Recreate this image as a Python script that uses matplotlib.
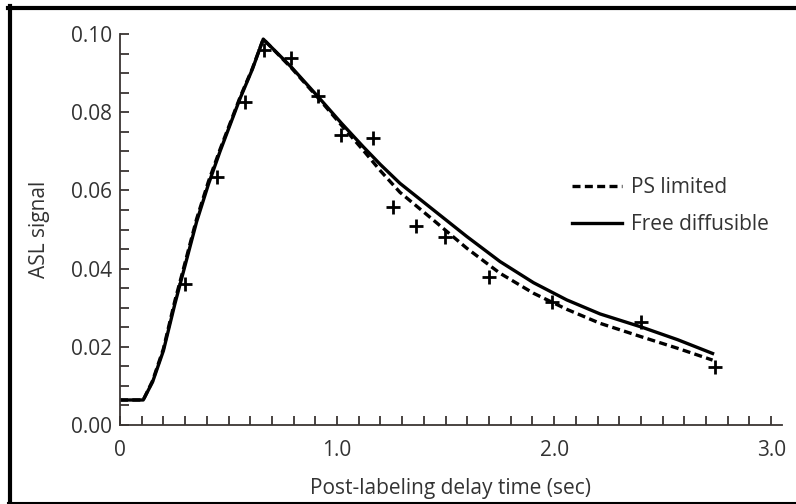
import matplotlib.pyplot as plt
from matplotlib.lines import Line2D
from matplotlib.ticker import MultipleLocator

plt.rcParams['font.family'] = ['Open Sans', 'DejaVu Sans']

# measured ASL signal at each post-labeling delay
t_meas = [0.30, 0.445, 0.576, 0.664, 0.79, 0.914, 1.02, 1.167, 1.26, 1.364, 1.498, 1.70, 1.99, 2.40, 2.74]
s_meas = [0.036, 0.0635, 0.0827, 0.096, 0.0938, 0.0841, 0.0742, 0.0735, 0.0557, 0.0509, 0.048, 0.0379, 0.0315, 0.0264, 0.0149]

# model fits
t_fit = [0.0, 0.107, 0.15, 0.2, 0.253, 0.284, 0.353, 0.407, 0.461, 0.553, 0.61, 0.66,
         0.79, 0.92, 1.02, 1.12, 1.2, 1.29, 1.444, 1.598, 1.751, 1.905, 2.058, 2.212,
         2.4, 2.57, 2.73]
s_free = [0.0064, 0.0064, 0.011, 0.019, 0.031, 0.0375, 0.052, 0.0615, 0.070, 0.0835, 0.091, 0.0987,
          0.0915, 0.0835, 0.0772, 0.0712, 0.0666, 0.0618, 0.055, 0.0482, 0.0418, 0.0364, 0.032, 0.0284,
          0.0251, 0.0218, 0.0183]
s_ps = [0.0064, 0.0064, 0.0113, 0.0195, 0.0318, 0.0382, 0.0527, 0.0622, 0.0705, 0.0838, 0.0912, 0.0987,
        0.0913, 0.0832, 0.0767, 0.0703, 0.065, 0.0595, 0.0524, 0.0452, 0.0388, 0.0337, 0.0296, 0.026,
        0.0226, 0.0196, 0.0166]

ink = '#3a3533'
txt = '#333333'

fig = plt.figure(figsize=(7.96, 5.04), dpi=100)
ax = fig.add_axes([120 / 796, 1 - 425 / 504, 662 / 796, 391 / 504])

ax.plot(t_fit, s_ps, color='black', lw=2.4, linestyle=(0, (2.4, 1.3)), label='PS limited')
ax.plot(t_fit, s_free, color='black', lw=2.4, label='Free diffusible')
ax.plot(t_meas, s_meas, linestyle='none', marker='+', ms=9.5, mew=2.0, color='black')

ax.set_xlim(0, 3.05)
ax.set_ylim(0, 0.10)
ax.set_xticks([0, 1, 2, 3])
ax.set_xticklabels(['0', '1.0', '2.0', '3.0'])
ax.xaxis.set_minor_locator(MultipleLocator(0.1))
ax.set_yticks([0, 0.02, 0.04, 0.06, 0.08, 0.10])
ax.set_yticklabels(['0.00', '0.02', '0.04', '0.06', '0.08', '0.10'])
ax.yaxis.set_minor_locator(MultipleLocator(0.005))

for side in ['top', 'right']:
    ax.spines[side].set_visible(False)
for side in ['left', 'bottom']:
    ax.spines[side].set_color(ink)
    ax.spines[side].set_linewidth(1.3)

ax.tick_params(which='both', direction='in', length=6.5, width=1.3, color=ink,
               labelsize=15, labelcolor=txt)
ax.tick_params(axis='x', pad=11)
ax.tick_params(axis='y', pad=6)

ax.set_xlabel('Post-labeling delay time (sec)', fontsize=15, color=txt, labelpad=12)
ax.set_ylabel('ASL signal', fontsize=15, color=txt, labelpad=15)

ax.legend(loc='upper left', bbox_to_anchor=(562 / 796, 1 - 167 / 504),
          bbox_transform=fig.transFigure, frameon=False, fontsize=15,
          handlelength=2.4, handletextpad=0.4, labelspacing=0.75, borderpad=0,
          labelcolor=txt)

# black frame around the figure
fig.add_artist(Line2D([8 / 796, 1], [1 - 8 / 504, 1 - 8 / 504], color='black', lw=3, transform=fig.transFigure))
fig.add_artist(Line2D([10 / 796, 10 / 796], [1 - 6 / 504, 1 - 503 / 504], color='black', lw=3, transform=fig.transFigure))
fig.add_artist(Line2D([8 / 796, 1], [1 - 502.5 / 504, 1 - 502.5 / 504], color='black', lw=1.5, transform=fig.transFigure))

plt.savefig('out.png', dpi=100)
